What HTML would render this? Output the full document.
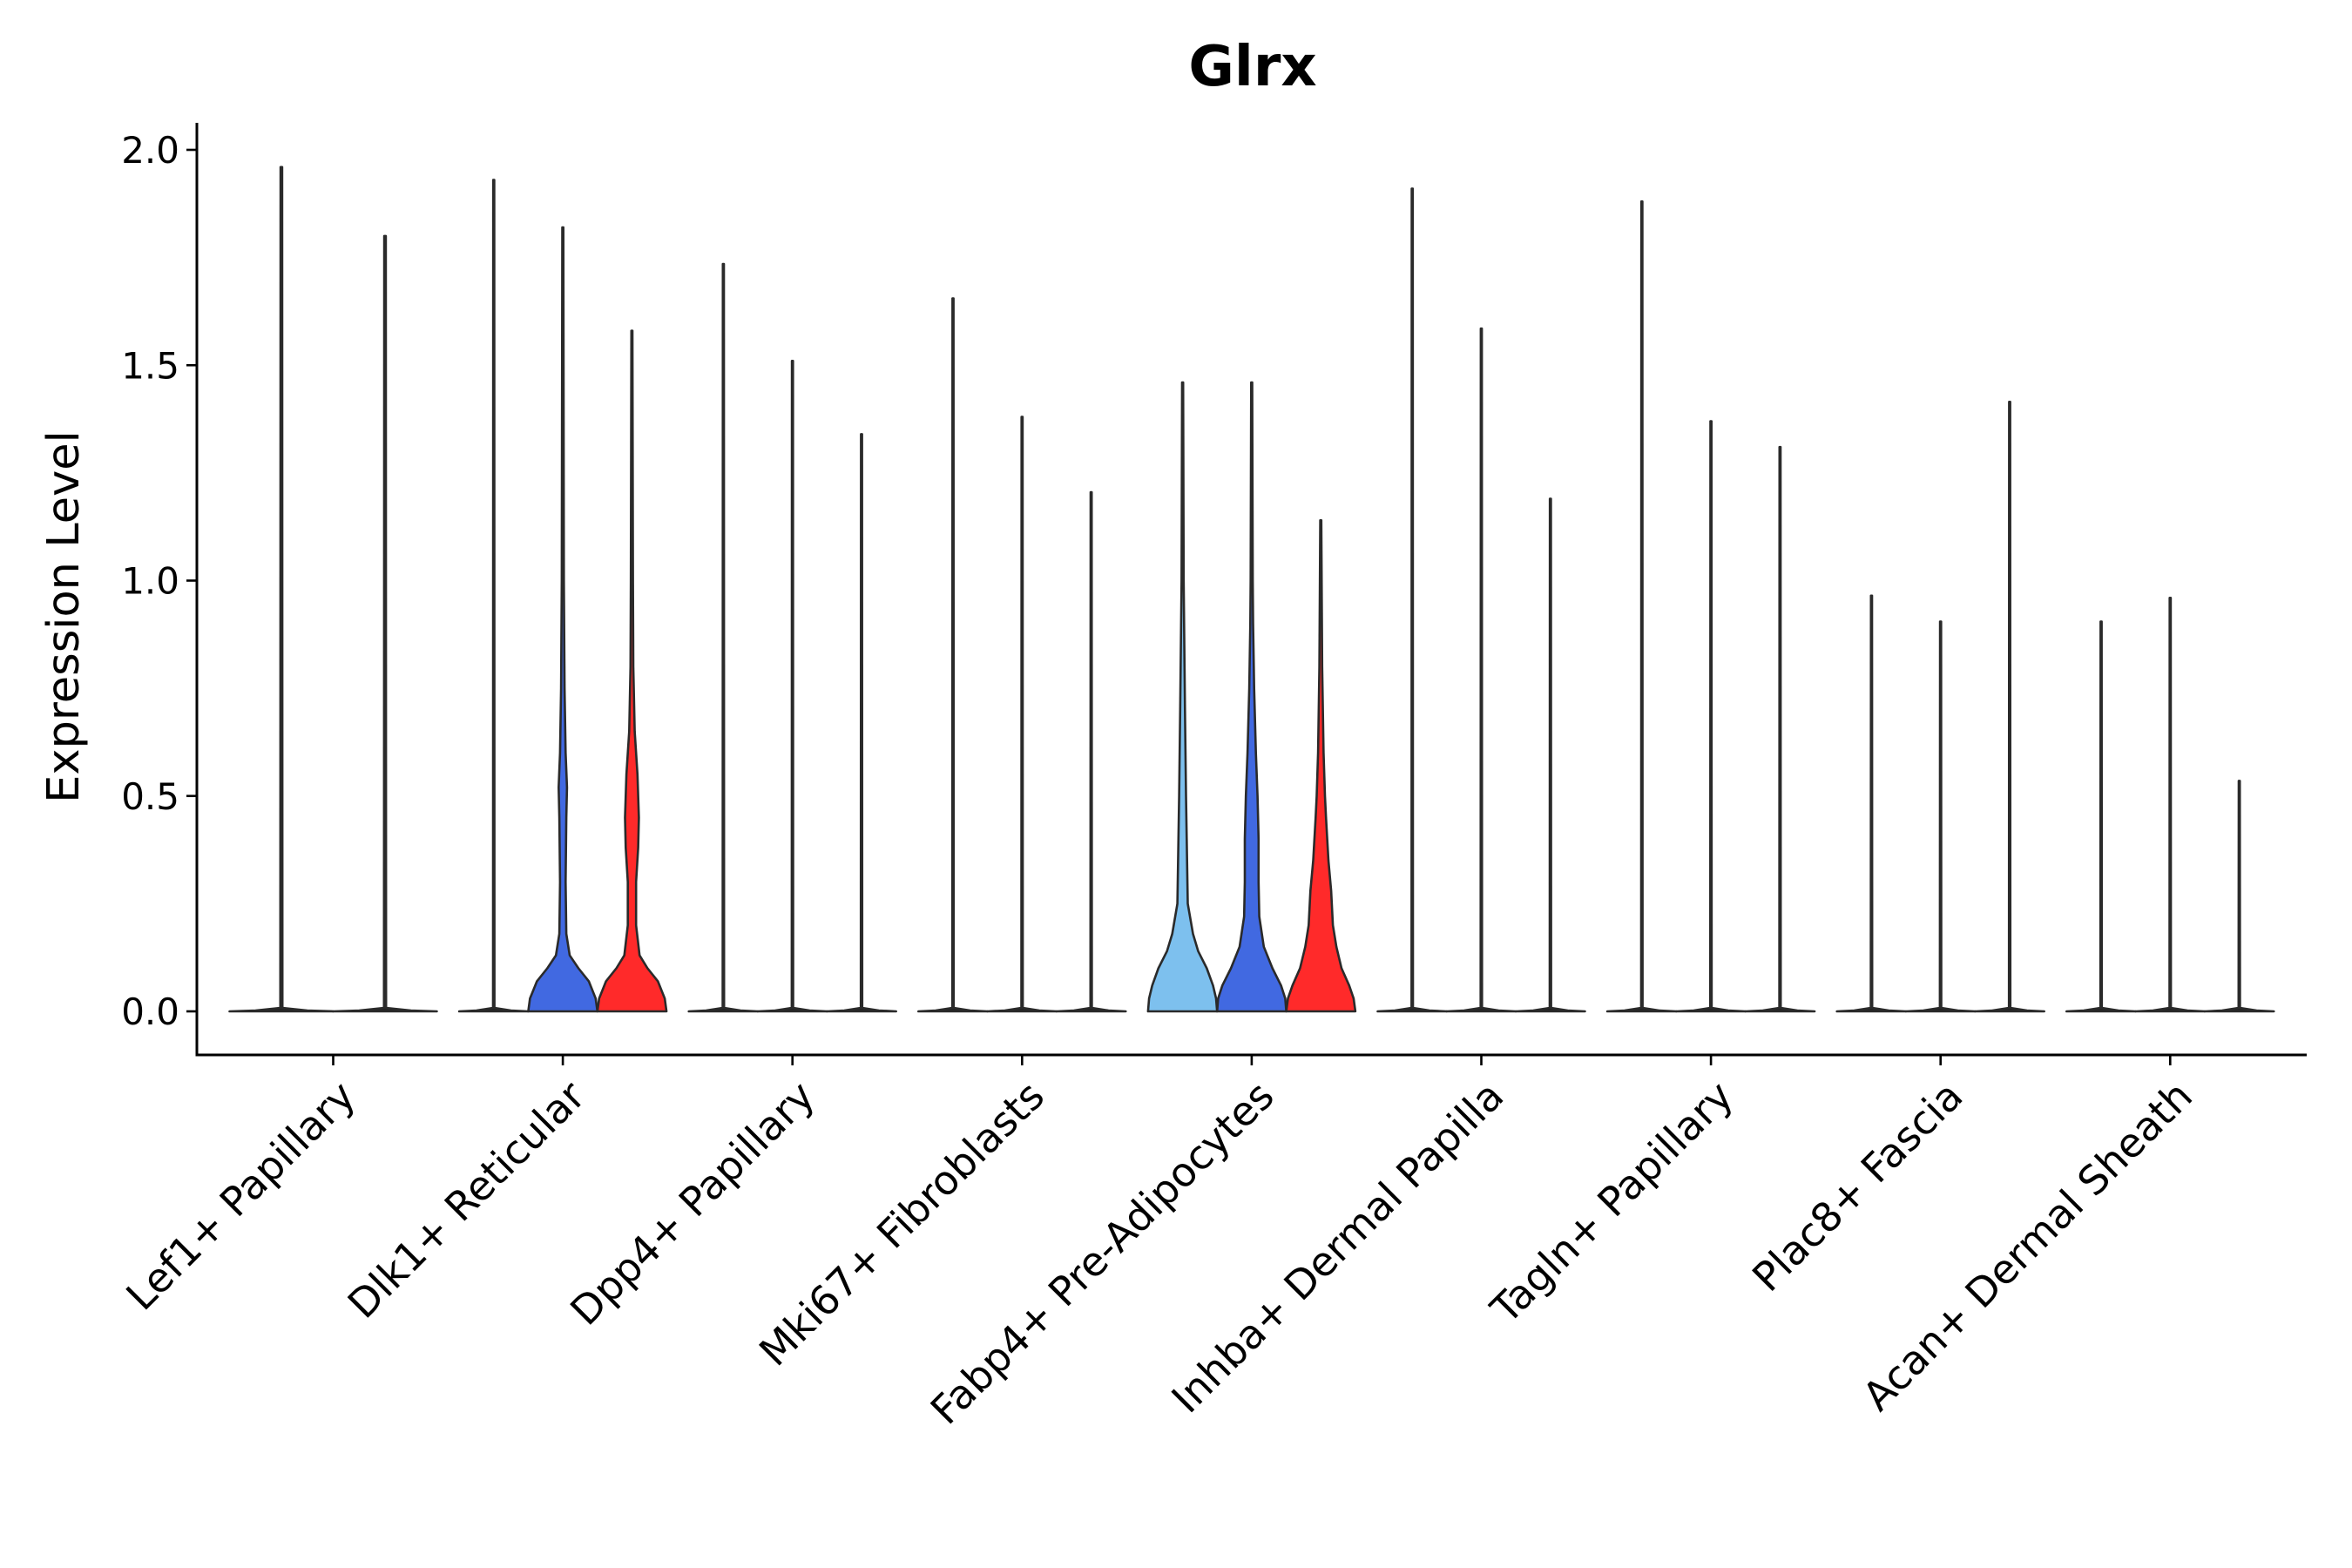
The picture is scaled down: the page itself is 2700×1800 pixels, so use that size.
<!DOCTYPE html>
<html><head><meta charset="utf-8"><style>
html,body{margin:0;padding:0;background:#fff;}
svg{display:block;font-family:"DejaVu Sans","Liberation Sans",sans-serif;}
</style></head><body>
<svg id="chart" width="2700" height="1800" viewBox="0 0 2700 1800" xmlns="http://www.w3.org/2000/svg">
<text x="1438" y="98" font-size="64" font-weight="bold" text-anchor="middle">Glrx</text>
<text transform="translate(90,708) rotate(-90)" font-size="51" text-anchor="middle">Expression Level</text>
<g id="plot"></g>
</svg>
<script>
const categories = ["Lef1+ Papillary","Dlk1+ Reticular","Dpp4+ Papillary","Mki67+ Fibroblasts","Fabp4+ Pre-Adipocytes","Inhba+ Dermal Papilla","Tagln+ Papillary","Plac8+ Fascia","Acan+ Dermal Sheath"];
const maxValues = [[1.96,1.80],[1.93,1.82,1.58],[1.735,1.51,1.34],[1.655,1.38,1.205],[1.46,1.46,1.14],[1.91,1.585,1.19],[1.88,1.37,1.31],[0.965,0.905,1.415],[0.905,0.96,0.535]];
const fills = [["none","none"],["none","#4169E1","#FF2A2A"],["none","none","none"],["none","none","none"],["#7DC0EE","#4169E1","#FF2A2A"],["none","none","none"],["none","none","none"],["none","none","none"],["none","none","none"]];
const profileZero = [[0,1],[0.002,0.5],[0.008,0.02]];
const profileDlk1Blue = [[0,1],[0.03,0.95],[0.07,0.75],[0.1,0.45],[0.13,0.2],[0.18,0.1],[0.3,0.08],[0.45,0.1],[0.52,0.12],[0.6,0.08],[0.75,0.05],[1.0,0.03]];
const profileDlk1Red = [[0,1],[0.03,0.95],[0.07,0.75],[0.1,0.45],[0.13,0.22],[0.2,0.12],[0.3,0.12],[0.38,0.18],[0.45,0.2],[0.55,0.16],[0.65,0.08],[0.8,0.04],[1.0,0.03]];
const profileFabp4Light = [[0,1],[0.03,0.97],[0.06,0.88],[0.1,0.7],[0.14,0.45],[0.18,0.3],[0.25,0.15],[0.4,0.12],[0.5,0.1],[0.7,0.07],[1.0,0.03]];
const profileFabp4Blue = [[0,1],[0.03,0.97],[0.06,0.85],[0.1,0.6],[0.15,0.35],[0.22,0.22],[0.3,0.2],[0.4,0.2],[0.5,0.17],[0.6,0.12],[0.75,0.07],[0.9,0.04],[1.0,0.03]];
const profileFabp4Red = [[0,1],[0.03,0.95],[0.06,0.82],[0.1,0.6],[0.15,0.45],[0.2,0.35],[0.28,0.3],[0.35,0.22],[0.45,0.15],[0.5,0.12],[0.6,0.08],[0.8,0.04]];
const profiles = {"1-1":profileDlk1Blue,"1-2":profileDlk1Red,"4-0":profileFabp4Light,"4-1":profileFabp4Blue,"4-2":profileFabp4Red};
const yTicks = [0,0.5,1.0,1.5,2.0];
const yTickLabels = ["0.0","0.5","1.0","1.5","2.0"];

const NS="http://www.w3.org/2000/svg";
const plot=document.getElementById('plot');
const X0=226,X1=2648,Y0=141,Y1=1211;
const yScale=v=>1161-v*494.5;
const catSpacing=263.6, catStart=382.5;
const xScale=i=>catStart+i*catSpacing;
function el(t,a){const e=document.createElementNS(NS,t);for(const k in a)e.setAttribute(k,a[k]);plot.appendChild(e);return e;}

categories.forEach((c,i)=>{
  const n=maxValues[i].length;
  const w=238/n;
  const hw=w/2;
  maxValues[i].forEach((mx,j)=>{
    const cx=xScale(i)+(j-(n-1)/2)*w;
    const prof=(profiles[i+"-"+j]||profileZero).filter(p=>p[0]<mx).concat([[mx,0.015]]);
    let left=prof.map(p=>[cx-p[1]*hw,yScale(p[0])]);
    let right=prof.slice().reverse().map(p=>[cx+p[1]*hw,yScale(p[0])]);
    const pts=left.concat(right);
    const d="M"+pts.map(p=>p[0].toFixed(1)+","+p[1].toFixed(1)).join("L")+"Z";
    const path=el('path',{d:d,fill:fills[i][j]==="none"?"#222":fills[i][j],stroke:"#2a2a2a","stroke-width":"2.6","stroke-linejoin":"round"});
    
    
  });
  const tk=el('line',{x1:xScale(i),x2:xScale(i),y1:Y1,y2:Y1+12,stroke:"#000","stroke-width":"2.6"});
  
  
  const t=el('text',{transform:`translate(${xScale(i)+28},${Y1+50}) rotate(-45)`,"font-size":"46","text-anchor":"end"});
  t.textContent=c;
  
  
});
yTicks.forEach((v,k)=>{
  const tk=el('line',{x1:X0-12,x2:X0,y1:yScale(v),y2:yScale(v),stroke:"#000","stroke-width":"2.6"});
  
  
  const t=el('text',{x:X0-20,y:yScale(v)+15,"font-size":"42","text-anchor":"end"});
  t.textContent=yTickLabels[k];
  
  
});
const ax=el('path',{d:`M${X0},${Y0}L${X0},${Y1}L${X1},${Y1}`,fill:"none",stroke:"#000","stroke-width":"3"});


</script>
</body></html>
